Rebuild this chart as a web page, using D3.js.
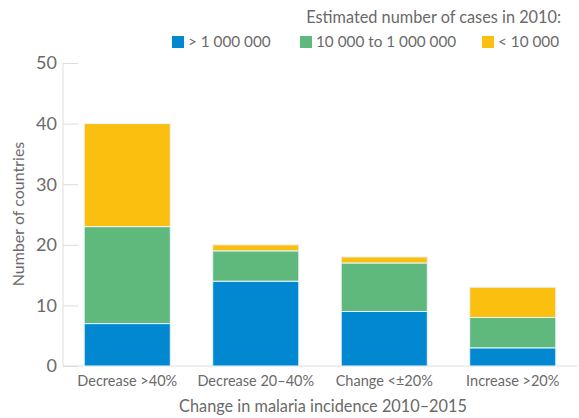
<!DOCTYPE html>
<html><head><meta charset="utf-8">
<script src="https://cdn.jsdelivr.net/npm/d3@7"></script>
<style>body{margin:0;background:#fff}text{font-family:"Lato","Open Sans",sans-serif;fill:#6a6a6a}</style>
</head><body><svg id="c" width="579" height="418"></svg>
<script>
const categories=["Decrease >40%","Decrease 20–40%","Change <±20%","Increase >20%"];
const seriesNames=["> 1 000 000","10 000 to 1 000 000","< 10 000"];
const seriesColors=["#0288d1","#5fb87c","#fbbf10"];
const large=[7,14,9,3];
const medium=[16,5,8,5];
const small=[17,1,1,5];
const yTicks=[0,10,20,30,40,50];

const svg=d3.select("#c");
const m={l:63,r:577,t:63,b:366};
const x=d3.scaleBand().domain(categories).range([m.l,m.r]).paddingInner(0.33).paddingOuter(0.165);
const y=d3.scaleLinear().domain([0,50]).range([m.b,m.t]);

const rows=categories.map((c,i)=>({cat:c,s0:large[i],s1:medium[i],s2:small[i]}));
const stack=d3.stack().keys(["s0","s1","s2"])(rows);

// axes
svg.append("line").attr("x1",m.l).attr("x2",m.l).attr("y1",y(50)).attr("y2",y(0)).attr("stroke","#ddd");
svg.append("line").attr("x1",m.l).attr("x2",m.r).attr("y1",y(0)).attr("y2",y(0)).attr("stroke","#ddd");
const yAx=svg.append("g").attr("transform",`translate(${m.l},0)`)
 .call(d3.axisRight(y).tickValues(yTicks).tickSize(15).tickFormat(""));
yAx.select(".domain").remove();
yAx.selectAll("line").attr("stroke","#ddd");
svg.append("g").selectAll("text").data(yTicks).join("text")
 .attr("x",m.l-6).attr("y",d=>y(d)).attr("dy","0.35em").attr("text-anchor","end")
 .attr("font-size",18).text(d=>d);

// bars
svg.append("g").selectAll("g").data(stack).join("g").attr("fill",(d,i)=>seriesColors[i])
 .selectAll("rect").data(d=>d).join("rect")
 .attr("x",d=>x(d.data.cat)).attr("width",x.bandwidth())
 .attr("y",d=>y(d[1])).attr("height",d=>y(d[0])-y(d[1]))
 .attr("stroke","#e8f4ff").attr("stroke-width",1);

// x labels
svg.append("g").selectAll("text").data(categories).join("text")
 .attr("x",d=>x(d)+x.bandwidth()/2).attr("y",386).attr("text-anchor","middle")
 .attr("font-size",14.5).text(d=>d);
svg.append("text").attr("x",323).attr("y",412).attr("text-anchor","middle").attr("font-size",16.3)
 .text("Change in malaria incidence 2010–2015");
svg.append("text").attr("transform","translate(24,214) rotate(-90)").attr("text-anchor","middle")
 .attr("font-size",16).text("Number of countries");

// legend
svg.append("text").attr("x",561).attr("y",23).attr("text-anchor","end").attr("font-size",16.3)
 .text("Estimated number of cases in 2010:");
const lx=[172,300,482];
const lg=svg.append("g").selectAll("g").data(seriesNames).join("g")
 .attr("transform",(d,i)=>`translate(${lx[i]},36)`);
lg.append("rect").attr("width",12).attr("height",12).attr("fill",(d,i)=>seriesColors[i]);
lg.append("text").attr("x",16).attr("y",11).attr("font-size",15.3).text(d=>d);
</script></body></html>
